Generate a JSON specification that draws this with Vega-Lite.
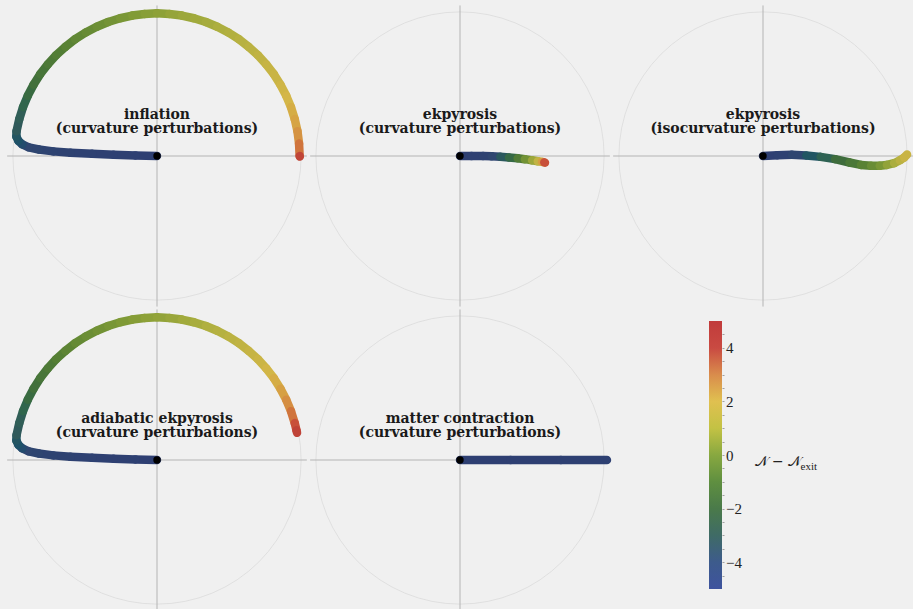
{
  "$schema": "https://vega.github.io/schema/vega-lite/v6.json",
  "background": "#f0f0f0",
  "padding": {"left": 5.5, "top": 4, "right": 0, "bottom": 0},
  "config": {"view": {"stroke": null}},
  "datasets": {
    "traj": [
      {"p":1,"x":0,"y":0,"n":-5},{"p":1,"x":-0.15,"y":0.004,"n":-4.9},{"p":1,"x":-0.3,"y":0.009,"n":-4.8},{"p":1,"x":-0.45,"y":0.015,"n":-4.7},{"p":1,"x":-0.6,"y":0.022,"n":-4.55},{"p":1,"x":-0.72,"y":0.032,"n":-4.4},{"p":1,"x":-0.82,"y":0.045,"n":-4.2},{"p":1,"x":-0.89,"y":0.06,"n":-4.0},{"p":1,"x":-0.935,"y":0.08,"n":-3.8},{"p":1,"x":-0.962,"y":0.105,"n":-3.55},{"p":1,"x":-0.976,"y":0.135,"n":-3.35},
      {"p":1,"x":-0.975,"y":0.172,"n":-3.1},{"p":1,"x":-0.956,"y":0.256,"n":-2.8},{"p":1,"x":-0.93,"y":0.339,"n":-2.4},{"p":1,"x":-0.897,"y":0.418,"n":-2.1},{"p":1,"x":-0.857,"y":0.495,"n":-1.8},{"p":1,"x":-0.811,"y":0.568,"n":-1.55},{"p":1,"x":-0.758,"y":0.636,"n":-1.3},{"p":1,"x":-0.7,"y":0.7,"n":-1.1},{"p":1,"x":-0.636,"y":0.758,"n":-0.9},{"p":1,"x":-0.568,"y":0.811,"n":-0.7},{"p":1,"x":-0.495,"y":0.857,"n":-0.55},{"p":1,"x":-0.418,"y":0.897,"n":-0.4},{"p":1,"x":-0.339,"y":0.93,"n":-0.25},{"p":1,"x":-0.256,"y":0.956,"n":-0.1},{"p":1,"x":-0.172,"y":0.975,"n":0.05},{"p":1,"x":-0.086,"y":0.986,"n":0.2},{"p":1,"x":0,"y":0.99,"n":0.3},{"p":1,"x":0.086,"y":0.986,"n":0.45},{"p":1,"x":0.172,"y":0.975,"n":0.6},{"p":1,"x":0.256,"y":0.956,"n":0.7},{"p":1,"x":0.339,"y":0.93,"n":0.8},{"p":1,"x":0.418,"y":0.897,"n":0.95},{"p":1,"x":0.495,"y":0.857,"n":1.05},{"p":1,"x":0.568,"y":0.811,"n":1.2},{"p":1,"x":0.636,"y":0.758,"n":1.3},{"p":1,"x":0.7,"y":0.7,"n":1.45},{"p":1,"x":0.758,"y":0.636,"n":1.6},{"p":1,"x":0.811,"y":0.568,"n":1.7},{"p":1,"x":0.857,"y":0.495,"n":1.85},{"p":1,"x":0.897,"y":0.418,"n":2.0},{"p":1,"x":0.93,"y":0.339,"n":2.2},{"p":1,"x":0.956,"y":0.256,"n":2.4},{"p":1,"x":0.975,"y":0.172,"n":2.8},{"p":1,"x":0.986,"y":0.086,"n":3.4},{"p":1,"x":0.99,"y":0.0,"n":4.5},{"p":1,"x":0.991,"y":-0.004,"n":5},

      {"p":2,"x":0,"y":0,"n":-5},{"p":2,"x":0.08,"y":0,"n":-4.9},{"p":2,"x":0.16,"y":0,"n":-4.6},{"p":2,"x":0.22,"y":-0.002,"n":-4.0},{"p":2,"x":0.28,"y":-0.005,"n":-3.2},{"p":2,"x":0.34,"y":-0.01,"n":-2.2},{"p":2,"x":0.4,"y":-0.016,"n":-1.2},{"p":2,"x":0.45,"y":-0.022,"n":-0.3},{"p":2,"x":0.5,"y":-0.03,"n":0.6},{"p":2,"x":0.54,"y":-0.036,"n":1.5},{"p":2,"x":0.57,"y":-0.041,"n":2.6},{"p":2,"x":0.585,"y":-0.044,"n":4.0},{"p":2,"x":0.59,"y":-0.046,"n":4.8},

      {"p":3,"x":0,"y":0,"n":-5},{"p":3,"x":0.1,"y":0.006,"n":-4.7},{"p":3,"x":0.2,"y":0.008,"n":-4.2},{"p":3,"x":0.3,"y":0.004,"n":-3.4},{"p":3,"x":0.4,"y":-0.006,"n":-2.6},{"p":3,"x":0.5,"y":-0.022,"n":-2.0},{"p":3,"x":0.6,"y":-0.045,"n":-1.4},{"p":3,"x":0.68,"y":-0.062,"n":-0.9},{"p":3,"x":0.75,"y":-0.068,"n":-0.5},{"p":3,"x":0.81,"y":-0.068,"n":-0.1},{"p":3,"x":0.86,"y":-0.062,"n":0.4},{"p":3,"x":0.91,"y":-0.05,"n":0.9},{"p":3,"x":0.95,"y":-0.03,"n":1.3},{"p":3,"x":0.98,"y":-0.01,"n":1.7},{"p":3,"x":1.0,"y":0.01,"n":2.0},

      {"p":4,"x":0,"y":0,"n":-5},{"p":4,"x":-0.15,"y":0.004,"n":-4.9},{"p":4,"x":-0.3,"y":0.009,"n":-4.8},{"p":4,"x":-0.45,"y":0.015,"n":-4.7},{"p":4,"x":-0.6,"y":0.022,"n":-4.55},{"p":4,"x":-0.72,"y":0.032,"n":-4.4},{"p":4,"x":-0.82,"y":0.045,"n":-4.2},{"p":4,"x":-0.89,"y":0.06,"n":-4.0},{"p":4,"x":-0.935,"y":0.08,"n":-3.8},{"p":4,"x":-0.962,"y":0.105,"n":-3.55},{"p":4,"x":-0.976,"y":0.135,"n":-3.35},
      {"p":4,"x":-0.975,"y":0.172,"n":-3.1},{"p":4,"x":-0.956,"y":0.256,"n":-2.8},{"p":4,"x":-0.93,"y":0.339,"n":-2.4},{"p":4,"x":-0.897,"y":0.418,"n":-2.1},{"p":4,"x":-0.857,"y":0.495,"n":-1.8},{"p":4,"x":-0.811,"y":0.568,"n":-1.5},{"p":4,"x":-0.758,"y":0.636,"n":-1.25},{"p":4,"x":-0.7,"y":0.7,"n":-1.0},{"p":4,"x":-0.636,"y":0.758,"n":-0.8},{"p":4,"x":-0.568,"y":0.811,"n":-0.6},{"p":4,"x":-0.495,"y":0.857,"n":-0.45},{"p":4,"x":-0.418,"y":0.897,"n":-0.3},{"p":4,"x":-0.339,"y":0.93,"n":-0.15},{"p":4,"x":-0.256,"y":0.956,"n":0.0},{"p":4,"x":-0.172,"y":0.975,"n":0.15},{"p":4,"x":-0.086,"y":0.986,"n":0.3},{"p":4,"x":0,"y":0.99,"n":0.4},{"p":4,"x":0.086,"y":0.986,"n":0.55},{"p":4,"x":0.172,"y":0.975,"n":0.7},{"p":4,"x":0.256,"y":0.956,"n":0.85},{"p":4,"x":0.339,"y":0.93,"n":1.0},{"p":4,"x":0.418,"y":0.897,"n":1.15},{"p":4,"x":0.495,"y":0.857,"n":1.3},{"p":4,"x":0.568,"y":0.811,"n":1.45},{"p":4,"x":0.636,"y":0.758,"n":1.6},{"p":4,"x":0.7,"y":0.7,"n":1.75},{"p":4,"x":0.758,"y":0.636,"n":1.95},{"p":4,"x":0.811,"y":0.568,"n":2.2},{"p":4,"x":0.857,"y":0.495,"n":2.5},{"p":4,"x":0.897,"y":0.418,"n":2.9},{"p":4,"x":0.93,"y":0.339,"n":3.4},{"p":4,"x":0.956,"y":0.256,"n":4.0},{"p":4,"x":0.968,"y":0.206,"n":4.6},{"p":4,"x":0.972,"y":0.189,"n":5},

      {"p":5,"x":0,"y":0,"n":-5},{"p":5,"x":0.35,"y":0,"n":-4.95},{"p":5,"x":0.7,"y":0,"n":-4.9},{"p":5,"x":1.02,"y":0,"n":-4.85}
    ]
  },
  "spacing": 0,
  "vconcat": [
    {
      "spacing": 0,
      "bounds": "flush",
      "hconcat": [
        {
          "width": 303, "height": 304,
          "layer": [
            {"data": {"values": [{}]}, "mark": {"type": "point", "shape": "circle", "size": 83059, "filled": false, "stroke": "#d9d9d9", "strokeWidth": 0.7, "opacity": 1},
             "encoding": {"x": {"datum": 0, "type": "quantitative", "scale": {"domain": [-1.0515, 1.0515], "nice": false, "zero": false}, "axis": null},
                          "y": {"datum": 0, "type": "quantitative", "scale": {"domain": [-1.055, 1.055], "nice": false, "zero": false}, "axis": null}}},
            {"data": {"values": [{}]}, "mark": {"type": "rule", "stroke": "#b4b4b4", "strokeWidth": 1}, "encoding": {"y": {"datum": 0, "type": "quantitative"}, "x": {"datum": -1.04, "type": "quantitative"}, "x2": {"datum": 1.04}}},
            {"data": {"values": [{}]}, "mark": {"type": "rule", "stroke": "#b4b4b4", "strokeWidth": 1}, "encoding": {"x": {"datum": 0, "type": "quantitative"}, "y": {"datum": -1.045, "type": "quantitative"}, "y2": {"datum": 1.045}}},
            {"data": {"name": "traj"},
             "transform": [{"filter": "datum.p == 1"}, {"window": [{"op": "lead", "field": "x", "as": "xe"}, {"op": "lead", "field": "y", "as": "ye"}]}, {"filter": "datum.xe != null"}],
             "mark": {"type": "rule", "strokeWidth": 8.5, "strokeCap": "round"},
             "encoding": {"x": {"field": "x", "type": "quantitative"}, "y": {"field": "y", "type": "quantitative"}, "x2": {"field": "xe"}, "y2": {"field": "ye"},
                          "color": {"field": "n", "type": "quantitative", "legend": null, "scale": {"domain": [-5,-4,-3,-2,-1,0,1,2,3,4,5], "range": ["#2e3f72","#2f4670","#355a58","#3e6c3c","#557f34","#7f9a36","#b0b040","#d4b648","#d48a42","#c8503a","#b83a36"]}}}},
            {"data": {"values": [{}]}, "mark": {"type": "point", "shape": "circle", "filled": true, "color": "#000000", "size": 55, "opacity": 1}, "encoding": {"x": {"datum": 0, "type": "quantitative"}, "y": {"datum": 0, "type": "quantitative"}}},
            {"data": {"values": [{}]}, "mark": {"type": "text", "text": ["inflation", "(curvature perturbations)"], "font": "DejaVu Serif", "fontWeight": "bold", "fontSize": 14, "lineHeight": 14.5, "baseline": "alphabetic", "align": "center", "color": "#1a1a1a"},
             "encoding": {"x": {"datum": 0, "type": "quantitative"}, "y": {"datum": 0.257, "type": "quantitative"}}}
          ]
        },
        {
          "width": 303, "height": 304,
          "layer": [
            {"data": {"values": [{}]}, "mark": {"type": "point", "shape": "circle", "size": 83059, "filled": false, "stroke": "#d9d9d9", "strokeWidth": 0.7, "opacity": 1},
             "encoding": {"x": {"datum": 0, "type": "quantitative", "scale": {"domain": [-1.0515, 1.0515], "nice": false, "zero": false}, "axis": null},
                          "y": {"datum": 0, "type": "quantitative", "scale": {"domain": [-1.055, 1.055], "nice": false, "zero": false}, "axis": null}}},
            {"data": {"values": [{}]}, "mark": {"type": "rule", "stroke": "#b4b4b4", "strokeWidth": 1}, "encoding": {"y": {"datum": 0, "type": "quantitative"}, "x": {"datum": -1.04, "type": "quantitative"}, "x2": {"datum": 1.04}}},
            {"data": {"values": [{}]}, "mark": {"type": "rule", "stroke": "#b4b4b4", "strokeWidth": 1}, "encoding": {"x": {"datum": 0, "type": "quantitative"}, "y": {"datum": -1.045, "type": "quantitative"}, "y2": {"datum": 1.045}}},
            {"data": {"name": "traj"},
             "transform": [{"filter": "datum.p == 2"}, {"window": [{"op": "lead", "field": "x", "as": "xe"}, {"op": "lead", "field": "y", "as": "ye"}]}, {"filter": "datum.xe != null"}],
             "mark": {"type": "rule", "strokeWidth": 8.5, "strokeCap": "round"},
             "encoding": {"x": {"field": "x", "type": "quantitative"}, "y": {"field": "y", "type": "quantitative"}, "x2": {"field": "xe"}, "y2": {"field": "ye"},
                          "color": {"field": "n", "type": "quantitative", "legend": null, "scale": {"domain": [-5,-4,-3,-2,-1,0,1,2,3,4,5], "range": ["#2e3f72","#2f4670","#355a58","#3e6c3c","#557f34","#7f9a36","#b0b040","#d4b648","#d48a42","#c8503a","#b83a36"]}}}},
            {"data": {"values": [{}]}, "mark": {"type": "point", "shape": "circle", "filled": true, "color": "#000000", "size": 55, "opacity": 1}, "encoding": {"x": {"datum": 0, "type": "quantitative"}, "y": {"datum": 0, "type": "quantitative"}}},
            {"data": {"values": [{}]}, "mark": {"type": "text", "text": ["ekpyrosis", "(curvature perturbations)"], "font": "DejaVu Serif", "fontWeight": "bold", "fontSize": 14, "lineHeight": 14.5, "baseline": "alphabetic", "align": "center", "color": "#1a1a1a"},
             "encoding": {"x": {"datum": 0, "type": "quantitative"}, "y": {"datum": 0.257, "type": "quantitative"}}}
          ]
        },
        {
          "width": 303, "height": 304,
          "layer": [
            {"data": {"values": [{}]}, "mark": {"type": "point", "shape": "circle", "size": 83059, "filled": false, "stroke": "#d9d9d9", "strokeWidth": 0.7, "opacity": 1},
             "encoding": {"x": {"datum": 0, "type": "quantitative", "scale": {"domain": [-1.0515, 1.0515], "nice": false, "zero": false}, "axis": null},
                          "y": {"datum": 0, "type": "quantitative", "scale": {"domain": [-1.055, 1.055], "nice": false, "zero": false}, "axis": null}}},
            {"data": {"values": [{}]}, "mark": {"type": "rule", "stroke": "#b4b4b4", "strokeWidth": 1}, "encoding": {"y": {"datum": 0, "type": "quantitative"}, "x": {"datum": -1.04, "type": "quantitative"}, "x2": {"datum": 1.04}}},
            {"data": {"values": [{}]}, "mark": {"type": "rule", "stroke": "#b4b4b4", "strokeWidth": 1}, "encoding": {"x": {"datum": 0, "type": "quantitative"}, "y": {"datum": -1.045, "type": "quantitative"}, "y2": {"datum": 1.045}}},
            {"data": {"name": "traj"},
             "transform": [{"filter": "datum.p == 3"}, {"window": [{"op": "lead", "field": "x", "as": "xe"}, {"op": "lead", "field": "y", "as": "ye"}]}, {"filter": "datum.xe != null"}],
             "mark": {"type": "rule", "strokeWidth": 8.5, "strokeCap": "round"},
             "encoding": {"x": {"field": "x", "type": "quantitative"}, "y": {"field": "y", "type": "quantitative"}, "x2": {"field": "xe"}, "y2": {"field": "ye"},
                          "color": {"field": "n", "type": "quantitative", "legend": null, "scale": {"domain": [-5,-4,-3,-2,-1,0,1,2,3,4,5], "range": ["#2e3f72","#2f4670","#355a58","#3e6c3c","#557f34","#7f9a36","#b0b040","#d4b648","#d48a42","#c8503a","#b83a36"]}}}},
            {"data": {"values": [{}]}, "mark": {"type": "point", "shape": "circle", "filled": true, "color": "#000000", "size": 55, "opacity": 1}, "encoding": {"x": {"datum": 0, "type": "quantitative"}, "y": {"datum": 0, "type": "quantitative"}}},
            {"data": {"values": [{}]}, "mark": {"type": "text", "text": ["ekpyrosis", "(isocurvature perturbations)"], "font": "DejaVu Serif", "fontWeight": "bold", "fontSize": 14, "lineHeight": 14.5, "baseline": "alphabetic", "align": "center", "color": "#1a1a1a"},
             "encoding": {"x": {"datum": 0, "type": "quantitative"}, "y": {"datum": 0.257, "type": "quantitative"}}}
          ]
        }
      ]
    },
    {
      "spacing": 97.5,
      "hconcat": [
        {
          "spacing": 0,
          "bounds": "flush",
          "hconcat": [
            {
              "width": 303, "height": 304,
              "layer": [
                {"data": {"values": [{}]}, "mark": {"type": "point", "shape": "circle", "size": 83059, "filled": false, "stroke": "#d9d9d9", "strokeWidth": 0.7, "opacity": 1},
                 "encoding": {"x": {"datum": 0, "type": "quantitative", "scale": {"domain": [-1.0515, 1.0515], "nice": false, "zero": false}, "axis": null},
                              "y": {"datum": 0, "type": "quantitative", "scale": {"domain": [-1.055, 1.055], "nice": false, "zero": false}, "axis": null}}},
                {"data": {"values": [{}]}, "mark": {"type": "rule", "stroke": "#b4b4b4", "strokeWidth": 1}, "encoding": {"y": {"datum": 0, "type": "quantitative"}, "x": {"datum": -1.04, "type": "quantitative"}, "x2": {"datum": 1.04}}},
                {"data": {"values": [{}]}, "mark": {"type": "rule", "stroke": "#b4b4b4", "strokeWidth": 1}, "encoding": {"x": {"datum": 0, "type": "quantitative"}, "y": {"datum": -1.045, "type": "quantitative"}, "y2": {"datum": 1.045}}},
                {"data": {"name": "traj"},
                 "transform": [{"filter": "datum.p == 4"}, {"window": [{"op": "lead", "field": "x", "as": "xe"}, {"op": "lead", "field": "y", "as": "ye"}]}, {"filter": "datum.xe != null"}],
                 "mark": {"type": "rule", "strokeWidth": 8.5, "strokeCap": "round"},
                 "encoding": {"x": {"field": "x", "type": "quantitative"}, "y": {"field": "y", "type": "quantitative"}, "x2": {"field": "xe"}, "y2": {"field": "ye"},
                              "color": {"field": "n", "type": "quantitative", "legend": null, "scale": {"domain": [-5,-4,-3,-2,-1,0,1,2,3,4,5], "range": ["#2e3f72","#2f4670","#355a58","#3e6c3c","#557f34","#7f9a36","#b0b040","#d4b648","#d48a42","#c8503a","#b83a36"]}}}},
                {"data": {"values": [{}]}, "mark": {"type": "point", "shape": "circle", "filled": true, "color": "#000000", "size": 55, "opacity": 1}, "encoding": {"x": {"datum": 0, "type": "quantitative"}, "y": {"datum": 0, "type": "quantitative"}}},
                {"data": {"values": [{}]}, "mark": {"type": "text", "text": ["adiabatic ekpyrosis", "(curvature perturbations)"], "font": "DejaVu Serif", "fontWeight": "bold", "fontSize": 14, "lineHeight": 14.5, "baseline": "alphabetic", "align": "center", "color": "#1a1a1a"},
                 "encoding": {"x": {"datum": 0, "type": "quantitative"}, "y": {"datum": 0.257, "type": "quantitative"}}}
              ]
            },
            {
              "width": 303, "height": 304,
              "layer": [
                {"data": {"values": [{}]}, "mark": {"type": "point", "shape": "circle", "size": 83059, "filled": false, "stroke": "#d9d9d9", "strokeWidth": 0.7, "opacity": 1},
                 "encoding": {"x": {"datum": 0, "type": "quantitative", "scale": {"domain": [-1.0515, 1.0515], "nice": false, "zero": false}, "axis": null},
                              "y": {"datum": 0, "type": "quantitative", "scale": {"domain": [-1.055, 1.055], "nice": false, "zero": false}, "axis": null}}},
                {"data": {"values": [{}]}, "mark": {"type": "rule", "stroke": "#b4b4b4", "strokeWidth": 1}, "encoding": {"y": {"datum": 0, "type": "quantitative"}, "x": {"datum": -1.04, "type": "quantitative"}, "x2": {"datum": 1.04}}},
                {"data": {"values": [{}]}, "mark": {"type": "rule", "stroke": "#b4b4b4", "strokeWidth": 1}, "encoding": {"x": {"datum": 0, "type": "quantitative"}, "y": {"datum": -1.045, "type": "quantitative"}, "y2": {"datum": 1.045}}},
                {"data": {"name": "traj"},
                 "transform": [{"filter": "datum.p == 5"}, {"window": [{"op": "lead", "field": "x", "as": "xe"}, {"op": "lead", "field": "y", "as": "ye"}]}, {"filter": "datum.xe != null"}],
                 "mark": {"type": "rule", "strokeWidth": 8.5, "strokeCap": "round"},
                 "encoding": {"x": {"field": "x", "type": "quantitative"}, "y": {"field": "y", "type": "quantitative"}, "x2": {"field": "xe"}, "y2": {"field": "ye"},
                              "color": {"field": "n", "type": "quantitative", "legend": null, "scale": {"domain": [-5,-4,-3,-2,-1,0,1,2,3,4,5], "range": ["#2e3f72","#2f4670","#355a58","#3e6c3c","#557f34","#7f9a36","#b0b040","#d4b648","#d48a42","#c8503a","#b83a36"]}}}},
                {"data": {"values": [{}]}, "mark": {"type": "point", "shape": "circle", "filled": true, "color": "#000000", "size": 55, "opacity": 1}, "encoding": {"x": {"datum": 0, "type": "quantitative"}, "y": {"datum": 0, "type": "quantitative"}}},
                {"data": {"values": [{}]}, "mark": {"type": "text", "text": ["matter contraction", "(curvature perturbations)"], "font": "DejaVu Serif", "fontWeight": "bold", "fontSize": 14, "lineHeight": 14.5, "baseline": "alphabetic", "align": "center", "color": "#1a1a1a"},
                 "encoding": {"x": {"datum": 0, "type": "quantitative"}, "y": {"datum": 0.257, "type": "quantitative"}}}
              ]
            }
          ]
        },
        {
          "width": 13, "height": 304,
          "data": {"values": [{"lo": -5, "hi": 5, "a": 0, "b": 1}]},
          "mark": {"type": "rect", "fill": {"gradient": "linear", "x1": 0, "y1": 1, "x2": 0, "y2": 0, "stops": [
            {"offset": 0.0, "color": "#3e539e"}, {"offset": 0.1, "color": "#3d5b8c"}, {"offset": 0.2, "color": "#3f6b66"}, {"offset": 0.3, "color": "#4a7a4a"},
            {"offset": 0.4, "color": "#5f8f40"}, {"offset": 0.5, "color": "#88a840"}, {"offset": 0.6, "color": "#c3c244"}, {"offset": 0.7, "color": "#e0c050"},
            {"offset": 0.8, "color": "#d98c4c"}, {"offset": 0.9, "color": "#c94a42"}, {"offset": 1.0, "color": "#c13b3b"}]}},
          "encoding": {
            "x": {"field": "a", "type": "quantitative", "scale": {"domain": [0, 1], "nice": false, "zero": false},
                  "axis": {"orient": "bottom", "domain": false, "ticks": false, "labels": false, "grid": false, "title": "exit", "titleFont": "Liberation Serif", "titleFontSize": 11, "titleFontWeight": "normal", "titleColor": "#222222", "titleAngle": 0, "titleAlign": "left", "titleBaseline": "alphabetic", "titleX": 91, "titleY": -143}},
            "x2": {"field": "b"},
            "y": {"field": "lo", "type": "quantitative", "scale": {"domain": [-5.858, 5.485], "nice": false, "zero": false},
                  "axis": {"orient": "right", "values": [-4.5,-4,-3.5,-3,-2.5,-2,-1.5,-1,-0.5,0,0.5,1,1.5,2,2.5,3,3.5,4,4.5], "format": ".0f",
                           "labelExpr": "datum.value % 2 == 0 ? datum.label : ''", "labelOverlap": false, "labelFlush": false,
                           "domain": false, "grid": false, "tickSize": 2, "tickColor": "#a0a0a0", "tickWidth": 1,
                           "labelFont": "Liberation Serif", "labelFontSize": 15, "labelColor": "#222222", "labelPadding": 1.5,
                           "title": "𝒩 − 𝒩", "titleFont": "DejaVu Serif", "titleFontSize": 14, "titleFontWeight": "normal", "titleColor": "#222222",
                           "titleAngle": 0, "titleAlign": "left", "titleBaseline": "alphabetic", "titleX": 32, "titleY": 157}},
            "y2": {"field": "hi"}
          }
        }
      ]
    }
  ]
}
